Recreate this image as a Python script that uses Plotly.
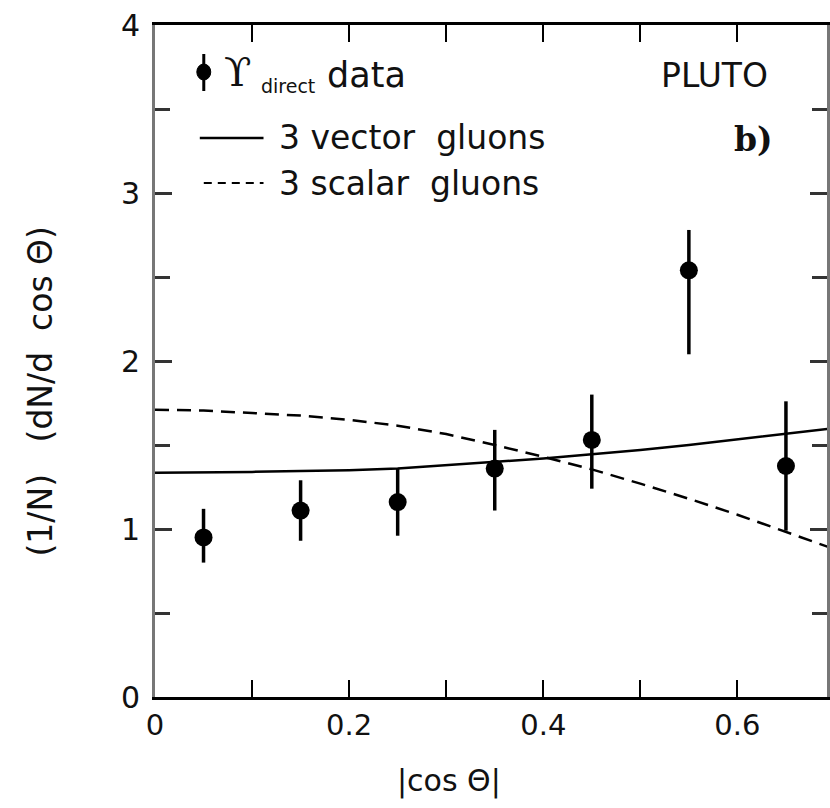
import plotly.graph_objects as go

# ---- data ----
cos_bins = [0.05, 0.15, 0.25, 0.35, 0.45, 0.55, 0.65]
data_vals = [0.95, 1.11, 1.16, 1.36, 1.53, 2.54, 1.375]
err_up = [0.17, 0.18, 0.20, 0.23, 0.27, 0.24, 0.385]
err_down = [0.15, 0.18, 0.20, 0.25, 0.29, 0.50, 0.385]

curve_x = [0.0, 0.05, 0.1, 0.15, 0.2, 0.25, 0.3, 0.35, 0.4, 0.45, 0.5, 0.55, 0.6, 0.65, 0.7]
vector_vals = [1.335, 1.336, 1.34, 1.345, 1.35, 1.36, 1.38, 1.40, 1.42, 1.445, 1.47, 1.50, 1.535, 1.566, 1.60]
scalar_vals = [1.71, 1.705, 1.69, 1.675, 1.65, 1.615, 1.565, 1.50, 1.43, 1.355, 1.27, 1.18, 1.085, 0.98, 0.88]

x_ticks = [0, 0.2, 0.4, 0.6]
x_ticklabels = ["0", "0.2", "0.4", "0.6"]
y_ticks = [0, 1, 2, 3, 4]
y_ticklabels = ["0", "1", "2", "3", "4"]

FONT = "DejaVu Sans, Verdana, sans-serif"

fig = go.Figure()
fig.add_trace(go.Scatter(x=curve_x, y=vector_vals, mode="lines",
                         line=dict(color="black", width=2.5), showlegend=False))
fig.add_trace(go.Scatter(x=curve_x, y=scalar_vals, mode="lines",
                         line=dict(color="black", width=2.5, dash="14px,8px"), showlegend=False))
fig.add_trace(go.Scatter(x=cos_bins, y=data_vals, mode="markers",
                         marker=dict(color="black", size=18),
                         error_y=dict(type="data", symmetric=False, array=err_up, arrayminus=err_down,
                                      color="black", thickness=3.5, width=0),
                         showlegend=False))

W, H = 830, 808
L, R, T, B = 155, 0, 25, 111
pw, ph = W - L - R, H - T - B

def px(x):
    return (x - L) / pw

def py(y):
    return (H - B - y) / ph

fig.update_layout(
    width=W, height=H,
    margin=dict(l=L, r=R, t=T, b=B),
    paper_bgcolor="white", plot_bgcolor="white",
    font=dict(family=FONT, size=30, color="#111"),
    xaxis=dict(range=[0, 0.6923], tickvals=x_ticks, ticktext=x_ticklabels,
               ticks="inside", ticklen=17, tickwidth=2, tickcolor="black",
               showline=True, linecolor="black", linewidth=3, mirror="ticks",
               showgrid=False, zeroline=False,
               minor=dict(dtick=0.1, ticks="inside", ticklen=17, tickwidth=2, tickcolor="black"),
               tickfont=dict(size=29)),
    yaxis=dict(range=[0, 4], tickvals=y_ticks, ticktext=y_ticklabels,
               ticks="inside", ticklen=17, tickwidth=3, tickcolor="#333",
               showline=True, linecolor="#777", linewidth=3, mirror="ticks",
               showgrid=False, zeroline=False, ticklabelstandoff=6,
               minor=dict(dtick=0.5, ticks="inside", ticklen=15, tickwidth=3, tickcolor="#333"),
               tickfont=dict(size=30)),
)

ann = []
ann.append(dict(text="|cos \u0398|", x=px(450), y=py(781), xref="paper", yref="paper",
                showarrow=False, font=dict(size=30), xanchor="center", yanchor="middle"))
ann.append(dict(text="(1/N)   (dN/d  cos \u0398)", x=px(40), y=py(392), xref="paper", yref="paper",
                showarrow=False, textangle=-90, font=dict(size=33), xanchor="center", yanchor="middle"))
ann.append(dict(text="<span style='font-family:DejaVu Serif;font-size:40px'>\u03d2</span>",
                x=px(222), y=py(72), xref="paper", yref="paper", showarrow=False,
                font=dict(size=40), xanchor="left", yanchor="middle"))
ann.append(dict(text="direct", x=px(259), y=py(86), xref="paper", yref="paper", showarrow=False,
                font=dict(size=19), xanchor="left", yanchor="middle"))
ann.append(dict(text="data", x=px(326), y=py(75), xref="paper", yref="paper", showarrow=False,
                font=dict(size=35), xanchor="left", yanchor="middle"))
ann.append(dict(text="3 vector  gluons", x=px(278), y=py(138), xref="paper", yref="paper",
                showarrow=False, font=dict(size=33), xanchor="left", yanchor="middle"))
ann.append(dict(text="3 scalar  gluons", x=px(278), y=py(183), xref="paper", yref="paper",
                showarrow=False, font=dict(size=33), xanchor="left", yanchor="middle"))
ann.append(dict(text="PLUTO", x=px(773), y=py(76), xref="paper", yref="paper",
                showarrow=False, font=dict(size=33), xanchor="right", yanchor="middle"))
ann.append(dict(text="<b>b)</b>", x=px(778), y=py(140), xref="paper", yref="paper",
                showarrow=False, font=dict(size=33, family="DejaVu Serif, Liberation Serif, serif"),
                xanchor="right", yanchor="middle"))
fig.update_layout(annotations=ann)

shapes = []
# legend samples
shapes.append(dict(type="line", xref="paper", yref="paper", x0=px(200), x1=px(264), y0=py(138), y1=py(138),
                   line=dict(color="black", width=2.5)))
shapes.append(dict(type="line", xref="paper", yref="paper", x0=px(204), x1=px(264), y0=py(183), y1=py(183),
                   line=dict(color="black", width=2, dash="8px,6px")))
shapes.append(dict(type="line", xref="paper", yref="paper", x0=px(204), x1=px(204), y0=py(54), y1=py(91),
                   line=dict(color="black", width=3)))
shapes.append(dict(type="circle", xref="paper", yref="paper", x0=px(197), x1=px(211), y0=py(64), y1=py(80),
                   fillcolor="black", line=dict(color="black", width=1)))
fig.update_layout(shapes=shapes)

fig.write_html("out.html")
